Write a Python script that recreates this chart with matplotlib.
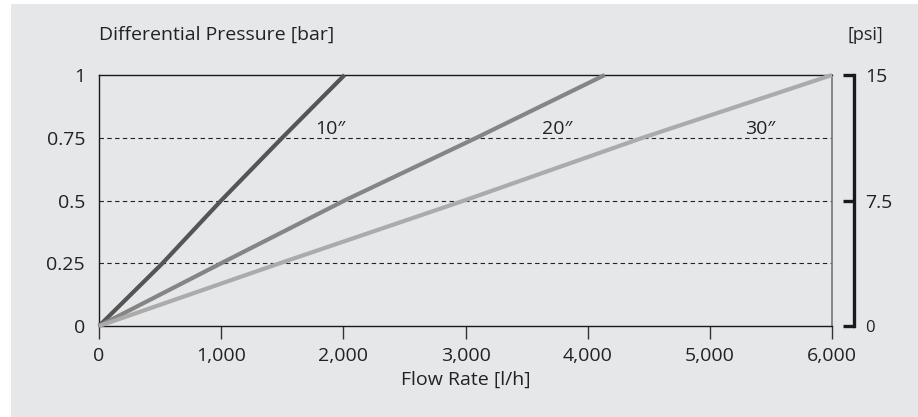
import matplotlib
matplotlib.use("Agg")
import matplotlib.pyplot as plt
from matplotlib.patches import Rectangle

# Data
pressure_bar = [0, 0.25, 0.5, 0.75, 1.0]
flow_10 = [0, 520, 1000, 1500, 2010]
flow_20 = [0, 1000, 2010, 3090, 4140]
flow_30 = [0, 1480, 2990, 4450, 6000]
series_labels = ['10″', '20″', '30″']
x_ticks = [0, 1000, 2000, 3000, 4000, 5000, 6000]
x_ticklabels = ['0', '1,000', '2,000', '3,000', '4,000', '5,000', '6,000']
y_ticks = [0, 0.25, 0.5, 0.75, 1]
y_ticklabels = ['0', '0.25', '0.5', '0.75', '1']
psi_ticks = [0, 7.5, 15]
psi_ticklabels = ['0', '7.5', '15']

plt.rcParams['font.family'] = ['Open Sans', 'DejaVu Sans']
FS = 14

W, H = 918, 417
fig = plt.figure(figsize=(W / 100, H / 100), dpi=100, facecolor='white')
bg = '#e6e7e9'
fig.patches.append(Rectangle((11 / W, 0), 1 - 11 / W, (H - 4) / H,
                             transform=fig.transFigure, facecolor=bg,
                             edgecolor='none', zorder=-10))

left, right, top, bottom = 99, 832, 75, 326
ax = fig.add_axes([left / W, 1 - bottom / H, (right - left) / W, (bottom - top) / H])
ax.set_facecolor('none')
ax.set_zorder(2)

colors = ['#555555', '#858585', '#ababab']
for fl, c in zip([flow_10, flow_20, flow_30], colors):
    ax.plot(fl, pressure_bar, color=c, lw=3.0, solid_capstyle='butt', zorder=3, clip_on=False)

ax.set_xlim(0, 6000)
ax.set_ylim(0, 1)

for y in [0.25, 0.5, 0.75]:
    ax.axhline(y, color='#222222', lw=0.8, ls=(0, (4, 3)), zorder=1)

for sp in ['left', 'top', 'bottom']:
    ax.spines[sp].set_color('#1a1a1a')
    ax.spines[sp].set_linewidth(1.0)
ax.spines['right'].set_color('#777777')
ax.spines['right'].set_linewidth(1.2)

ax.set_xticks(x_ticks)
ax.set_xticklabels(x_ticklabels)
ax.set_yticks(y_ticks)
ax.set_yticklabels(y_ticklabels)
ax.tick_params(axis='x', direction='out', length=9, width=1.0, color='#333333',
               labelsize=FS, labelcolor='#222222', pad=6)
ax.tick_params(axis='y', length=0, labelsize=FS, labelcolor='#222222', pad=10)
xt = ax.xaxis.get_major_ticks()
xt[-1].tick1line.set_color('#777777')

ax.set_xlabel('Flow Rate [l/h]', fontsize=FS, color='#222222', labelpad=4)

# curve labels
ax.text(1890, 0.785, series_labels[0], fontsize=FS, color='#222222', ha='center', va='center')
ax.text(3750, 0.785, series_labels[1], fontsize=FS, color='#222222', ha='center', va='center')
ax.text(5410, 0.785, series_labels[2], fontsize=FS, color='#222222', ha='center', va='center')

fig.text(99 / W, 1 - 35 / H, 'Differential Pressure [bar]', fontsize=FS,
         color='#222222', ha='left', va='center')
fig.text(865 / W, 1 - 35 / H, '[psi]', fontsize=FS - 1, color='#222222',
         ha='center', va='center')

# psi axis
ax2 = ax.twinx()
ax2.set_zorder(3)
ax2.set_ylim(0, 15)
for sp in ['left', 'top', 'bottom']:
    ax2.spines[sp].set_visible(False)
ax2.spines['right'].set_position(('outward', 16))
ax2.spines['right'].set_linewidth(2.4)
ax2.spines['right'].set_color('#1a1a1a')
ax2.set_yticks(psi_ticks)
ax2.set_yticklabels(psi_ticklabels)
ax2.tick_params(axis='y', direction='in', length=8, width=2.4, color='#1a1a1a',
                labelsize=FS, labelcolor='#222222', pad=8)
ax2.get_yticklabels()[0].set_fontsize(FS - 2)

fig.savefig('out.png', dpi=100, facecolor='white')
